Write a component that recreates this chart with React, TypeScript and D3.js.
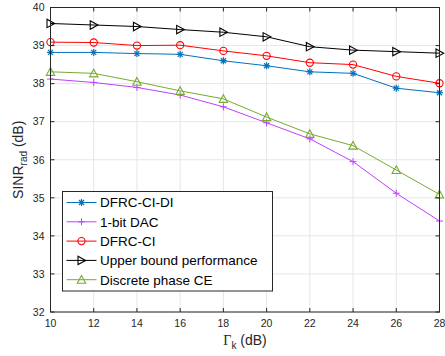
import React from "react";
import * as d3 from "d3";

const xValues = [10, 12, 14, 16, 18, 20, 22, 24, 26, 28];
const dfrcCiDi = [38.82, 38.82, 38.79, 38.77, 38.6, 38.47, 38.31, 38.27, 37.88, 37.76];
const oneBitDac = [38.12, 38.03, 37.9, 37.7, 37.39, 36.97, 36.55, 35.95, 35.12, 34.39];
const dfrcCi = [39.09, 39.08, 39.0, 39.01, 38.86, 38.73, 38.55, 38.5, 38.19, 38.01];
const upperBound = [39.58, 39.54, 39.5, 39.42, 39.35, 39.23, 38.97, 38.88, 38.84, 38.8];
const discretePhase = [38.31, 38.27, 38.05, 37.81, 37.6, 37.12, 36.68, 36.37, 35.73, 35.09];
const xTicks = [10, 12, 14, 16, 18, 20, 22, 24, 26, 28];
const yTicks = [32, 33, 34, 35, 36, 37, 38, 39, 40];
const seriesNames = ["DFRC-CI-DI", "1-bit DAC", "DFRC-CI", "Upper bound performance", "Discrete phase CE"];

type Marker = "star" | "plus" | "circle" | "tri-right" | "tri-up";
const series: { name: string; values: number[]; color: string; marker: Marker }[] = [
  { name: seriesNames[0], values: dfrcCiDi, color: "#0072BD", marker: "star" },
  { name: seriesNames[1], values: oneBitDac, color: "#BF40FF", marker: "plus" },
  { name: seriesNames[2], values: dfrcCi, color: "#FF0000", marker: "circle" },
  { name: seriesNames[3], values: upperBound, color: "#000000", marker: "tri-right" },
  { name: seriesNames[4], values: discretePhase, color: "#77AC30", marker: "tri-up" },
];

const L = 50.5, R = 439.5, T = 7.5, B = 312;

function MarkerShape({ m, x, y, color }: { m: Marker; x: number; y: number; color: string }) {
  const s = 3.5;
  switch (m) {
    case "star":
      return (
        <g stroke={color} strokeWidth={1.2}>
          <line x1={x - s} y1={y} x2={x + s} y2={y} />
          <line x1={x} y1={y - s} x2={x} y2={y + s} />
          <line x1={x - 2.5} y1={y - 2.5} x2={x + 2.5} y2={y + 2.5} />
          <line x1={x - 2.5} y1={y + 2.5} x2={x + 2.5} y2={y - 2.5} />
        </g>
      );
    case "plus":
      return (
        <g stroke={color} strokeWidth={1}>
          <line x1={x - s} y1={y} x2={x + s} y2={y} />
          <line x1={x} y1={y - s} x2={x} y2={y + s} />
        </g>
      );
    case "circle":
      return <circle cx={x} cy={y} r={3.6} fill="none" stroke={color} strokeWidth={1.1} />;
    case "tri-right":
      return (
        <path d={`M${x - 3.5},${y - 4.2}L${x + 4.2},${y}L${x - 3.5},${y + 4.2}Z`} fill="none" stroke={color} strokeWidth={1.1} />
      );
    case "tri-up":
      return (
        <path d={`M${x},${y - 4.2}L${x + 4.2},${y + 3.5}L${x - 4.2},${y + 3.5}Z`} fill="none" stroke={color} strokeWidth={1.1} />
      );
  }
}

export default function App() {
  const x = d3.scaleLinear().domain([10, 28]).range([L, R]);
  const y = d3.scaleLinear().domain([32, 40]).range([B, T]);
  const line = d3
    .line<number>()
    .x((_, i) => x(xValues[i]))
    .y((d) => y(d));
  const axisColor = "#262626";
  const font = "Liberation Sans, Arial, sans-serif";
  const legX = 62.5, legY = 191.5, legW = 210, legH = 99.5, rowH = 19.3;

  return (
    <svg width={445} height={356} style={{ position: "absolute", left: 0, top: 0, background: "#fff" }}>
      <rect x={0} y={0} width={445} height={356} fill="#fff" />
      {xTicks.map((t) => (
        <line key={"gx" + t} x1={x(t)} x2={x(t)} y1={T} y2={B} stroke="#e6e6e6" strokeWidth={1} />
      ))}
      {yTicks.map((t) => (
        <line key={"gy" + t} x1={L} x2={R} y1={y(t)} y2={y(t)} stroke="#e6e6e6" strokeWidth={1} />
      ))}
      {series.map((s) => (
        <g key={s.name}>
          <path d={line(s.values) || ""} fill="none" stroke={s.color} strokeWidth={1} />
          {s.values.map((v, i) => (
            <MarkerShape key={i} m={s.marker} x={x(xValues[i])} y={y(v)} color={s.color} />
          ))}
        </g>
      ))}
      <rect x={L} y={T} width={R - L} height={B - T} fill="none" stroke={axisColor} strokeWidth={1} />
      {xTicks.map((t) => (
        <g key={"tx" + t}>
          <line x1={x(t)} x2={x(t)} y1={B} y2={B - 4} stroke={axisColor} />
          <line x1={x(t)} x2={x(t)} y1={T} y2={T + 4} stroke={axisColor} />
          <text x={x(t)} y={327} textAnchor="middle" fontSize={10.5} fill={axisColor} fontFamily={font}>
            {t}
          </text>
        </g>
      ))}
      {yTicks.map((t) => (
        <g key={"ty" + t}>
          <line x1={L} x2={L + 4} y1={y(t)} y2={y(t)} stroke={axisColor} />
          <line x1={R} x2={R - 4} y1={y(t)} y2={y(t)} stroke={axisColor} />
          <text x={L - 6} y={y(t) + 3.8} textAnchor="end" fontSize={10.5} fill={axisColor} fontFamily={font}>
            {t}
          </text>
        </g>
      ))}
      <text
        transform={`translate(23,${(T + B) / 2}) rotate(-90)`}
        textAnchor="middle"
        fontSize={14}
        fill={axisColor}
        fontFamily={font}
      >
        SINR<tspan fontSize={10} dy={4}>rad</tspan>
        <tspan dy={-4}> (dB)</tspan>
      </text>
      <text x={245} y={345} textAnchor="middle" fontSize={14} fill={axisColor} fontFamily={font}>
        <tspan fontFamily="Liberation Serif, Times New Roman, serif">Γ</tspan>
        <tspan fontSize={10} dy={4}>k</tspan>
        <tspan dy={-4}> (dB)</tspan>
      </text>
      <rect x={legX} y={legY} width={legW} height={legH} fill="#fff" stroke={axisColor} strokeWidth={1} />
      {series.map((s, i) => {
        const cy = legY + 11 + i * rowH;
        return (
          <g key={"leg" + s.name}>
            <line x1={66.5} x2={96.5} y1={cy} y2={cy} stroke={s.color} strokeWidth={1} />
            <MarkerShape m={s.marker} x={81.5} y={cy} color={s.color} />
            <text x={100} y={cy + 4.8} fontSize={13.5} fill="#000" fontFamily={font}>
              {s.name}
            </text>
          </g>
        );
      })}
    </svg>
  );
}
